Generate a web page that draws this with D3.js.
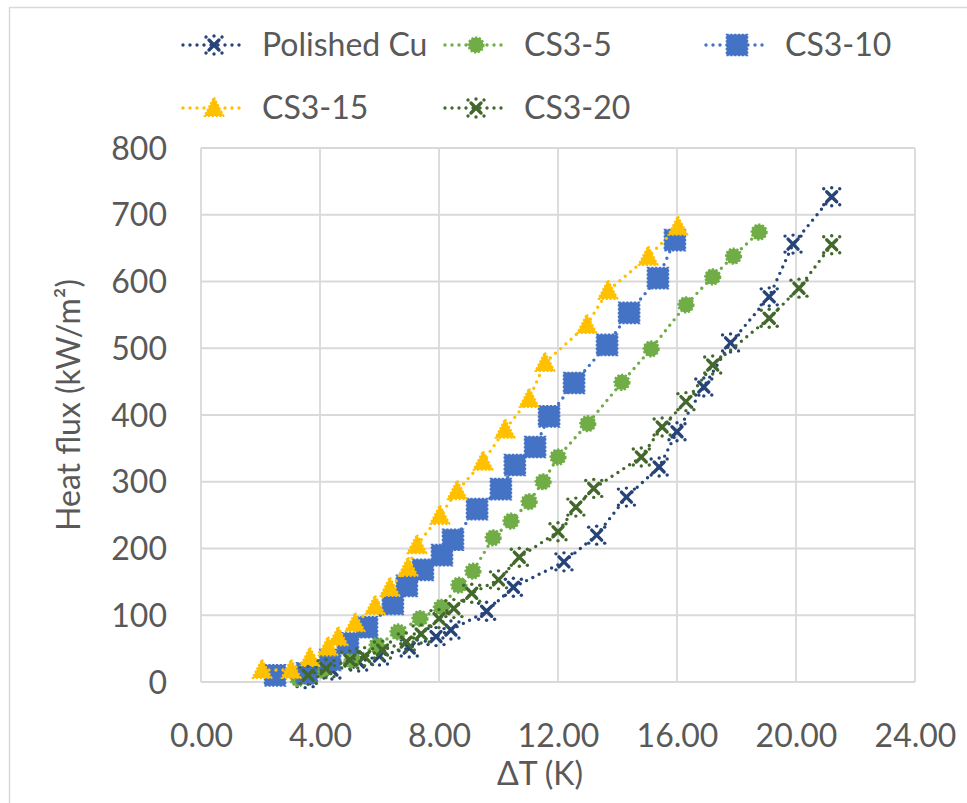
<!DOCTYPE html>
<html>
<head>
<meta charset="utf-8">
<script src="https://cdn.jsdelivr.net/npm/d3@7"></script>
<style>
  html, body { margin: 0; padding: 0; background: #fff; }
  svg { display: block; }
  text { font-family: Lato, "Open Sans", sans-serif; fill: #595959; }
</style>
</head>
<body>
<svg id="chart" width="967" height="803"></svg>
<script>
// Boiling curves: heat flux vs wall superheat
const seriesNames = ["Polished Cu", "CS3-5", "CS3-10", "CS3-15", "CS3-20"];

const polishedCuDT = [3.5, 4.4, 5.3, 6.0, 7.0, 7.9, 8.4, 9.6, 10.5, 12.2, 13.3, 14.3, 15.4, 16.0, 16.9, 17.8, 19.1, 19.9, 21.2];
const polishedCuQ  = [5, 18, 30, 39, 51, 68, 78, 106, 142, 180, 220, 277, 322, 375, 442, 508, 577, 656, 727];

const cs35DT = [3.26, 4.07, 5.08, 5.92, 6.62, 7.36, 8.08, 8.67, 9.14, 9.82, 10.42, 11.03, 11.5, 12.0, 13.0, 14.15, 15.13, 16.3, 17.2, 17.9, 18.76];
const cs35Q  = [5, 18, 33, 55, 75, 95, 112, 145, 166, 216, 241, 270, 300, 337, 387, 449, 499, 565, 607, 638, 674];

const cs310DT = [2.49, 3.56, 4.34, 4.94, 5.58, 6.45, 6.92, 7.46, 8.10, 8.47, 9.28, 10.08, 10.55, 11.23, 11.70, 12.54, 13.65, 14.39, 15.36, 15.93];
const cs310Q  = [10, 13, 33, 58, 82, 117, 144, 168, 190, 213, 259, 289, 325, 352, 398, 448, 505, 553, 605, 662];

const cs315DT = [2.05, 3.03, 3.66, 4.27, 4.61, 5.18, 5.85, 6.35, 6.96, 7.26, 8.03, 8.61, 9.48, 10.22, 11.03, 11.56, 12.97, 13.68, 15.03, 16.03];
const cs315Q  = [18, 18, 36, 52, 67, 88, 114, 141, 171, 205, 249, 286, 330, 378, 424, 478, 535, 586, 637, 682];

const cs320DT = [3.6, 4.2, 5.0, 5.5, 6.1, 6.9, 7.4, 8.0, 8.5, 9.1, 10.0, 10.7, 12.0, 12.6, 13.2, 14.8, 15.5, 16.3, 17.2, 19.1, 20.1, 21.2];
const cs320Q  = [10, 20, 33, 38, 48, 60, 72, 95, 110, 133, 153, 187, 225, 262, 290, 337, 382, 420, 475, 545, 590, 655];

const xTickValues = [0, 4, 8, 12, 16, 20, 24];
const yTickValues = [0, 100, 200, 300, 400, 500, 600, 700, 800];

const xTitle = "ΔT (K)";
const yTitle = "Heat flux (kW/m²)";

const colors = ["#264478", "#70AD47", "#4472C4", "#FFC000", "#43682B"];
const markerKinds = ["x", "circle", "square", "triangle", "x"];

const seriesX = [polishedCuDT, cs35DT, cs310DT, cs315DT, cs320DT];
const seriesY = [polishedCuQ, cs35Q, cs310Q, cs315Q, cs320Q];

const series = seriesNames.map((name, i) => ({
  name,
  color: colors[i],
  kind: markerKinds[i],
  points: seriesX[i].map((x, j) => ({ x, y: seriesY[i][j] }))
}));

const svg = d3.select("#chart");
const plot = { left: 201, right: 915, top: 148, bottom: 682 };

const x = d3.scaleLinear().domain([0, 24]).range([plot.left, plot.right]);
const y = d3.scaleLinear().domain([0, 800]).range([plot.bottom, plot.top]);

// outer chart frame
svg.append("rect")
  .attr("x", 9.5).attr("y", 7.5)
  .attr("width", 1000).attr("height", 1000)
  .attr("fill", "none").attr("stroke", "#d9d9d9").attr("stroke-width", 1.5);

// gridlines
const grid = svg.append("g");
grid.selectAll("line.v").data(xTickValues).join("line")
  .attr("x1", d => x(d)).attr("x2", d => x(d))
  .attr("y1", plot.top).attr("y2", plot.bottom)
  .attr("stroke", "#d9d9d9").attr("stroke-width", 1.8);
grid.selectAll("line.h").data(yTickValues).join("line")
  .attr("x1", plot.left).attr("x2", plot.right)
  .attr("y1", d => y(d)).attr("y2", d => y(d))
  .attr("stroke", "#d9d9d9").attr("stroke-width", 1.8);

// axes (labels only)
const xAxis = d3.axisBottom(x).tickValues(xTickValues).tickFormat(d3.format(".2f")).tickSize(0).tickPadding(0);
const gx = svg.append("g").attr("transform", `translate(0,${plot.bottom})`).call(xAxis);
gx.select(".domain").remove();
gx.selectAll("text").attr("dy", null).attr("y", 65).style("font-size", "32px").attr("fill", "#595959");

const yAxis = d3.axisLeft(y).tickValues(yTickValues).tickFormat(d3.format("d")).tickSize(0).tickPadding(0);
const gy = svg.append("g").attr("transform", `translate(167,0)`).call(yAxis);
gy.select(".domain").remove();
gy.selectAll("text").attr("x", 0).attr("dy", "0.35em").style("font-size", "32px").attr("fill", "#595959");

svg.append("text")
  .attr("x", 540).attr("y", 785)
  .attr("text-anchor", "middle").style("font-size", "32px")
  .text(xTitle);

svg.append("text")
  .attr("transform", "translate(80,405) rotate(-90)")
  .attr("text-anchor", "middle").style("font-size", "32px")
  .text(yTitle);

// marker shapes, each with a dotted outline in its own colour
function drawMarker(g, kind, color) {
  const dotted = "2.2 1.6";
  if (kind === "square") {
    g.append("rect").attr("x", -10.5).attr("y", -10.5).attr("width", 21).attr("height", 21)
      .attr("fill", color).attr("stroke", color).attr("stroke-width", 1.6).attr("stroke-dasharray", dotted);
  } else if (kind === "triangle") {
    g.append("path").attr("d", "M0,-10.5 L9.5,8 L-9.5,8 Z")
      .attr("fill", color).attr("stroke", color).attr("stroke-width", 2.2).attr("stroke-dasharray", dotted)
      .attr("stroke-linejoin", "round");
  } else if (kind === "circle") {
    g.append("circle").attr("r", 7.5)
      .attr("fill", color).attr("stroke", color).attr("stroke-width", 2.2).attr("stroke-dasharray", dotted);
  } else {
    g.append("path").attr("d", "M-5,-5 L5,5 M-5,5 L5,-5")
      .attr("fill", "none").attr("stroke", color).attr("stroke-width", 3.4)
      .attr("stroke-linecap", "round");
    g.selectAll("circle.tip").data([[-8, -8], [8, -8], [-8, 8], [8, 8], [0, -9], [0, 9]]).join("circle")
      .attr("cx", d => d[0]).attr("cy", d => d[1]).attr("r", 1.7).attr("fill", color);
  }
}

const line = d3.line().x(d => x(d.x)).y(d => y(d.y));

series.forEach(s => {
  const g = svg.append("g");
  g.append("path").datum(s.points).attr("d", line)
    .attr("fill", "none").attr("stroke", s.color).attr("stroke-width", 3.4)
    .attr("stroke-dasharray", "0 7").attr("stroke-linecap", "round");
  g.selectAll("g.m").data(s.points).join("g")
    .attr("transform", d => `translate(${x(d.x)},${y(d.y)})`)
    .each(function () { drawMarker(d3.select(this), s.kind, s.color); });
});

// legend
const legendPos = [
  { lx: 183, ty: 45 }, { lx: 445, ty: 45 }, { lx: 706, ty: 45 },
  { lx: 183, ty: 108 }, { lx: 445, ty: 108 }
];
series.forEach((s, i) => {
  const p = legendPos[i];
  const g = svg.append("g").attr("transform", `translate(${p.lx},${p.ty})`);
  g.append("line").attr("x1", 0).attr("x2", 62).attr("y1", 0).attr("y2", 0)
    .attr("stroke", s.color).attr("stroke-width", 3.4)
    .attr("stroke-dasharray", "0 7").attr("stroke-linecap", "round");
  const m = g.append("g").attr("transform", "translate(31,0)");
  drawMarker(m, s.kind, s.color);
  g.append("text").attr("x", 79).attr("y", 0).attr("dy", "0.35em")
    .style("font-size", "32px").text(s.name);
});
</script>
</body>
</html>
